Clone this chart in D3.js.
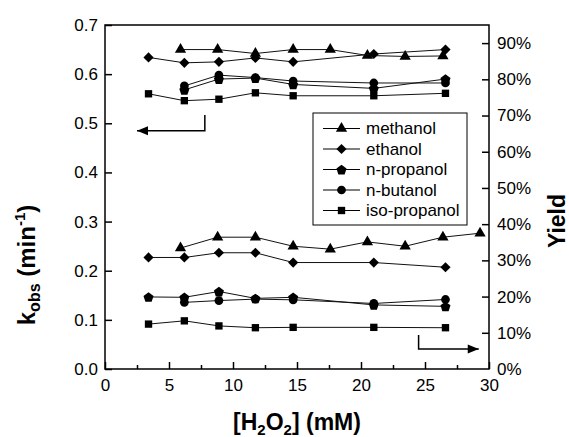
<!DOCTYPE html>
<html>
<head>
<meta charset="utf-8">
<script src="https://cdn.jsdelivr.net/npm/d3@7"></script>
<style>
  body { margin: 0; background: #fff; }
  text { font-family: "Liberation Sans", Arial, sans-serif; fill: #000; }
</style>
</head>
<body>
<div id="chart"></div>
<script>
// x positions ([H2O2], mM)
var xMethanol = [5.9, 8.8, 11.75, 14.7, 17.6, 20.5, 23.45, 26.4, 29.3];
var xEthanol  = [3.4, 6.2, 8.9, 11.75, 14.7, 21.0, 26.6];
var xPropanol = [3.4, 6.2, 8.9, 11.75, 14.7, 21.0, 26.6];
var xButanol  = [6.2, 8.9, 11.75, 14.7, 21.0, 26.6];
var xIso      = [3.4, 6.2, 8.9, 11.75, 14.7, 21.0, 26.6];

// k_obs (min^-1), left axis  (upper group)
var methanolK = [0.65, 0.65, 0.642, 0.65, 0.65, 0.638, 0.636, 0.637];
var ethanolK  = [0.634, 0.623, 0.625, 0.633, 0.625, 0.641, 0.65];
var propanolK = [0.568, 0.59, 0.592, 0.579, 0.571, 0.59];      // from x=6.2
var butanolK  = [0.576, 0.598, 0.593, 0.586, 0.582, 0.582];
var isoK      = [0.56, 0.546, 0.549, 0.562, 0.556, 0.556, 0.561];

// yield, right axis (lower group)
var methanolY = [0.334, 0.364, 0.364, 0.339, 0.331, 0.351, 0.339, 0.364, 0.375];
var ethanolY  = [0.308, 0.308, 0.321, 0.321, 0.294, 0.294, 0.281];
var propanolY = [0.199, 0.198, 0.214, 0.195, 0.198, 0.177, 0.173];
var butanolY  = [0.184, 0.189, 0.193, 0.191, 0.181, 0.192];
var isoY      = [0.124, 0.133, 0.119, 0.114, 0.115, 0.115, 0.114];

var names = ["methanol", "ethanol", "n-propanol", "n-butanol", "iso-propanol"];
var leftTicks = [0, 0.1, 0.2, 0.3, 0.4, 0.5, 0.6, 0.7];
var rightTicks = [0, 0.1, 0.2, 0.3, 0.4, 0.5, 0.6, 0.7, 0.8, 0.9];

// arrow annotations (data units)
var leftArrow = [[7.8, 0.517], [7.8, 0.485], [2.5, 0.485]];   // k axis
var rightArrow = [[24.5, 0.094], [24.5, 0.055], [29.2, 0.055]]; // yield axis

var margin = { top: 25, right: 80, bottom: 68, left: 105 };
var width = 569 - margin.left - margin.right;
var height = 437 - margin.top - margin.bottom;

var svg = d3.select('#chart').append('svg')
    .attr('width', 569).attr('height', 437);
var chart = svg.append('g')
    .attr('transform', 'translate(' + margin.left + ',' + margin.top + ')');

var x = d3.scaleLinear().domain([0, 30]).range([0, width]);
var yK = d3.scaleLinear().domain([0, 0.7]).range([height, 0]);
var yP = d3.scaleLinear().domain([0, 0.95]).range([height, 0]);

///////////////////////
// symbols
function pentagon(r) {
  var p = [];
  for (var i = 0; i < 5; i++) {
    var a = -Math.PI / 2 + i * 2 * Math.PI / 5;
    p.push([r * Math.cos(a), r * Math.sin(a) + 0.6]);
  }
  return 'M' + p.join('L') + 'Z';
}
var shapes = {
  "methanol": function() { return d3.symbol(d3.symbolTriangle, 55)(); },
  "ethanol": function() { return d3.symbol(d3.symbolSquare, 52)(); },
  "n-propanol": function() { return pentagon(5.3); },
  "n-butanol": function() { return d3.symbol(d3.symbolCircle, 60)(); },
  "iso-propanol": function() { return d3.symbol(d3.symbolSquare, 54)(); }
};
var rot = { "ethanol": 45 };

function drawSeries(name, xs, ys, yScale) {
  var pts = ys.map(function(v, i) { return [xs[i], v]; });
  var line = d3.line()
      .x(function(d) { return x(d[0]); })
      .y(function(d) { return yScale(d[1]); });
  chart.append('path')
      .datum(pts)
      .attr('fill', 'none')
      .attr('stroke', '#111')
      .attr('stroke-width', 1)
      .attr('d', line);
  chart.append('g').selectAll('path')
      .data(pts)
      .enter().append('path')
      .attr('d', shapes[name]())
      .attr('fill', '#000')
      .attr('transform', function(d) {
        return 'translate(' + x(d[0]) + ',' + yScale(d[1]) + ') rotate(' + (rot[name] || 0) + ')';
      });
}

drawSeries('methanol', xMethanol, methanolK, yK);
drawSeries('ethanol', xEthanol, ethanolK, yK);
drawSeries('n-propanol', xPropanol.slice(1), propanolK, yK);
drawSeries('n-butanol', xButanol, butanolK, yK);
drawSeries('iso-propanol', xIso, isoK, yK);

drawSeries('methanol', xMethanol, methanolY, yP);
drawSeries('ethanol', xEthanol, ethanolY, yP);
drawSeries('n-propanol', xPropanol, propanolY, yP);
drawSeries('n-butanol', xButanol, butanolY, yP);
drawSeries('iso-propanol', xIso, isoY, yP);

///////////////////////
// Axes
var fs = '17px';
var xAxis = d3.axisBottom(x).tickValues(d3.range(0, 31, 5)).tickSize(-7).tickPadding(10).tickFormat(d3.format('d'));
var xMinor = d3.axisBottom(x).tickValues(d3.range(2.5, 30, 5)).tickSize(-4).tickFormat('');
var yAxisL = d3.axisLeft(yK).tickValues(leftTicks).tickSize(-7).tickPadding(7).tickFormat(d3.format('.1f'));
var yAxisR = d3.axisRight(yP).tickValues(rightTicks).tickSize(-7).tickPadding(8).tickFormat(d3.format('.0%'));

var gx = chart.append('g').attr('transform', 'translate(0,' + height + ')').call(xAxis);
chart.append('g').attr('transform', 'translate(0,' + height + ')').call(xMinor);
var gl = chart.append('g').call(yAxisL);
var gr = chart.append('g').attr('transform', 'translate(' + width + ',0)').call(yAxisR);

chart.selectAll('.domain').remove();
chart.selectAll('.tick line').attr('stroke', '#000').attr('stroke-width', 1.5);
chart.selectAll('.tick text').attr('font-size', fs).attr('font-family', '"Liberation Sans", Arial, sans-serif');
gr.selectAll('.tick').filter(function(d) { return d === 0; }).select('line').remove();

// frame
chart.append('rect')
    .attr('width', width).attr('height', height)
    .attr('fill', 'none').attr('stroke', '#000').attr('stroke-width', 1.5);

///////////////////////
// arrows
function arrow(pts, yScale) {
  var line = d3.line().x(function(d) { return x(d[0]); }).y(function(d) { return yScale(d[1]); });
  chart.append('path').datum(pts)
      .attr('fill', 'none').attr('stroke', '#000').attr('stroke-width', 1.5)
      .attr('d', line);
  var end = pts[pts.length - 1], prev = pts[pts.length - 2];
  var dir = x(end[0]) > x(prev[0]) ? 1 : -1;
  var ex = x(end[0]), ey = yScale(end[1]);
  chart.append('path')
      .attr('d', 'M' + ex + ',' + ey + 'L' + (ex - dir * 11) + ',' + (ey - 4.5) + 'L' + (ex - dir * 11) + ',' + (ey + 4.5) + 'Z')
      .attr('fill', '#000');
}
arrow(leftArrow, yK);
arrow(rightArrow, yP);

///////////////////////
// legend
var lg = svg.append('g').attr('transform', 'translate(313,113)');
lg.append('rect').attr('width', 154).attr('height', 112)
    .attr('fill', '#fff').attr('stroke', '#000').attr('stroke-width', 1);
names.forEach(function(n, i) {
  var yy = 15.5 + i * 20.5;
  lg.append('line').attr('x1', 10).attr('x2', 47).attr('y1', yy).attr('y2', yy)
      .attr('stroke', '#000').attr('stroke-width', 1);
  lg.append('path').attr('d', shapes[n]()).attr('fill', '#000')
      .attr('transform', 'translate(28.5,' + yy + ') rotate(' + (rot[n] || 0) + ')');
  lg.append('text').attr('x', 53).attr('y', yy).attr('dy', '0.35em')
      .attr('font-size', '17px').text(n);
});

///////////////////////
// titles
var tl = svg.append('text')
    .attr('transform', 'translate(35,265) rotate(-90)')
    .attr('text-anchor', 'middle')
    .attr('font-size', '24px').attr('font-weight', 'bold');
tl.append('tspan').text('k');
tl.append('tspan').attr('font-size', '16px').attr('dy', 5).text('obs');
tl.append('tspan').attr('dy', -5).text(' (min');
tl.append('tspan').attr('font-size', '15px').attr('dy', -10).text('-1');
tl.append('tspan').attr('dy', 10).text(')');

var tx = svg.append('text')
    .attr('x', 297).attr('y', 430)
    .attr('text-anchor', 'middle')
    .attr('font-size', '23px').attr('font-weight', 'bold');
tx.append('tspan').text('[H');
tx.append('tspan').attr('font-size', '15px').attr('dy', 5).text('2');
tx.append('tspan').attr('dy', -5).text('O');
tx.append('tspan').attr('font-size', '15px').attr('dy', 5).text('2');
tx.append('tspan').attr('dy', -5).text('] (mM)');

svg.append('text')
    .attr('transform', 'translate(565,221) rotate(-90)')
    .attr('text-anchor', 'middle')
    .attr('font-size', '23px').attr('font-weight', 'bold')
    .text('Yield');
</script>
</body>
</html>
